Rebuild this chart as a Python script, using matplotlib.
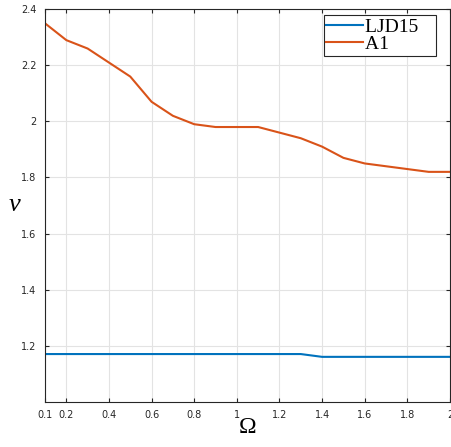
import numpy as np
from matplotlib import pyplot as plt

omega = [0.1, 0.2, 0.3, 0.4, 0.5, 0.6, 0.7, 0.8, 0.9, 1.0,
         1.1, 1.2, 1.3, 1.4, 1.5, 1.6, 1.7, 1.8, 1.9, 2.0]
nu_ljd15 = [1.17, 1.17, 1.17, 1.17, 1.17, 1.17, 1.17, 1.17, 1.17, 1.17,
            1.17, 1.17, 1.17, 1.16, 1.16, 1.16, 1.16, 1.16, 1.16, 1.16]
nu_a1 = [2.35, 2.29, 2.26, 2.21, 2.16, 2.07, 2.02, 1.99, 1.98, 1.98,
         1.98, 1.96, 1.94, 1.91, 1.87, 1.85, 1.84, 1.83, 1.82, 1.82]
xticks = [0.1, 0.2, 0.4, 0.6, 0.8, 1, 1.2, 1.4, 1.6, 1.8, 2]
xticklabels = ['0.1', '0.2', '0.4', '0.6', '0.8', '1', '1.2', '1.4', '1.6', '1.8', '2']
yticks = [1.2, 1.4, 1.6, 1.8, 2.0, 2.2, 2.4]
yticklabels = ['1.2', '1.4', '1.6', '1.8', '2', '2.2', '2.4']

fig = plt.figure(figsize=(4.51, 4.47), dpi=100)
ax = fig.add_axes([45 / 451, 1 - 401.7 / 447, 405 / 451, (401.7 - 9.3) / 447])

ax.plot(omega, nu_ljd15, color='#0072BD', lw=1.5, label='LJD15')
ax.plot(omega, nu_a1, color='#D95319', lw=1.5, label='A1')

ax.set_xlim(0.1, 2)
ax.set_ylim(1.0, 2.4)
ax.set_xticks(xticks)
ax.set_xticklabels(xticklabels)
ax.set_yticks(yticks)
ax.set_yticklabels(yticklabels)
ax.grid(True, color='#e3e3e3', lw=0.8)
ax.set_axisbelow(True)
ax.tick_params(direction='in', top=True, right=True, labelsize=7,
               colors='#262626', length=3, width=0.8, pad=6)
for s in ax.spines.values():
    s.set_color('#262626')
    s.set_linewidth(0.8)

ax.set_xlabel('Ω', fontfamily='Liberation Serif', fontsize=17, labelpad=-2)
ax.set_ylabel('ν', fontfamily='Liberation Serif', fontstyle='italic',
              fontsize=19, rotation=0, labelpad=5, va='center')

leg = ax.legend(loc='upper right', prop={'family': 'Liberation Serif', 'size': 14},
                fancybox=False, edgecolor='#262626', framealpha=1,
                borderpad=0.15, labelspacing=0.0, handlelength=1.9,
                handletextpad=0.1, borderaxespad=0.3)
leg.get_frame().set_linewidth(0.8)
# MATLAB-style legend has extra room to the right of the labels
for t in leg.get_texts():
    t.set_text(t.get_text() + '   ')
leg.set_bbox_to_anchor((1 - 8 / 405, 1), transform=ax.transAxes)

fig.savefig('out.png', dpi=100)
